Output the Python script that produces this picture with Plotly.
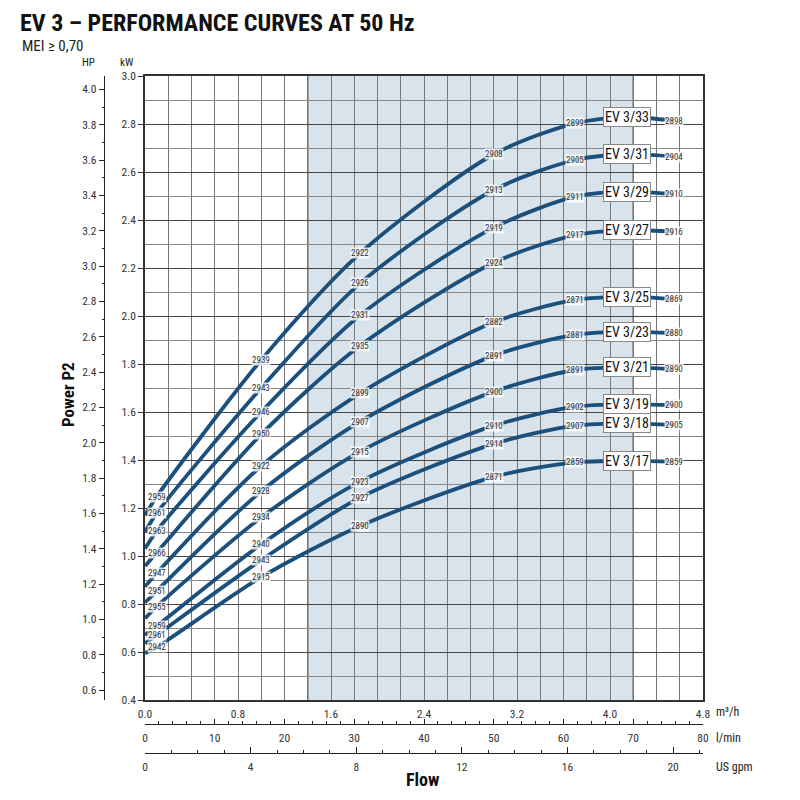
import plotly.graph_objects as go

# flow points (m3/h)
flow = [0.0, 0.1, 1.0, 1.85, 3.0, 3.7, 4.15, 4.55]

models = ["EV 3/33", "EV 3/31", "EV 3/29", "EV 3/27", "EV 3/25",
          "EV 3/23", "EV 3/21", "EV 3/19", "EV 3/18", "EV 3/17"]

# power P2 (kW) at the flow points
p_33 = [1.17, 1.247, 1.817, 2.261, 2.674, 2.803, 2.828, 2.814]
p_31 = [1.10, 1.178, 1.700, 2.136, 2.525, 2.650, 2.674, 2.664]
p_29 = [1.03, 1.104, 1.600, 2.003, 2.368, 2.497, 2.518, 2.507]
p_27 = [0.958, 1.014, 1.507, 1.876, 2.222, 2.337, 2.358, 2.351]
p_25 = [0.872, 0.928, 1.375, 1.678, 1.974, 2.067, 2.080, 2.071]
p_23 = [0.805, 0.854, 1.270, 1.560, 1.835, 1.921, 1.935, 1.928]
p_21 = [0.740, 0.789, 1.161, 1.435, 1.685, 1.775, 1.786, 1.778]
p_19 = [0.671, 0.708, 1.049, 1.310, 1.543, 1.622, 1.632, 1.629]
p_18 = [0.636, 0.670, 0.983, 1.243, 1.467, 1.543, 1.553, 1.546]
p_17 = [0.595, 0.620, 0.912, 1.125, 1.330, 1.390, 1.396, 1.393]
power = [p_33, p_31, p_29, p_27, p_25, p_23, p_21, p_19, p_18, p_17]

# speed (rpm) printed at flow points 0.1, 1.0, 1.85, 3.0, 3.7, 4.55
rpm_idx = [1, 2, 3, 4, 5, 7]
rpm_33 = [2959, 2939, 2922, 2908, 2899, 2898]
rpm_31 = [2961, 2943, 2926, 2913, 2905, 2904]
rpm_29 = [2963, 2946, 2931, 2919, 2911, 2910]
rpm_27 = [2966, 2950, 2935, 2924, 2917, 2916]
rpm_25 = [2947, 2922, 2899, 2882, 2871, 2869]
rpm_23 = [2951, 2928, 2907, 2891, 2881, 2880]
rpm_21 = [2955, 2934, 2915, 2900, 2891, 2890]
rpm_19 = [2959, 2940, 2923, 2910, 2902, 2900]
rpm_18 = [2961, 2943, 2927, 2914, 2907, 2905]
rpm_17 = [2942, 2915, 2890, 2871, 2859, 2859]
rpms = [rpm_33, rpm_31, rpm_29, rpm_27, rpm_25, rpm_23, rpm_21, rpm_19, rpm_18, rpm_17]
label_idx = 6  # where the model name box sits

# shaded working range (m3/h)
range_lo, range_hi = 1.4, 4.2

KW_PER_HP = 0.736
LMIN_PER_M3H = 1000 / 60
GPM_PER_M3H = 1 / 0.2271247

FONT = "Liberation Sans Narrow, Roboto Condensed, DejaVu Sans Condensed, Arial Narrow, Liberation Sans, sans-serif"
BLUE = "#1b4f7c"
W, H = 800, 800
OFF = 8  # page body margin


def px_x(p):
    return (p - OFF) / W


def px_y(p):
    return 1 - (p - OFF) / H


fig = go.Figure()

annotations = []
for name, pw, rp in zip(models, power, rpms):
    fig.add_trace(go.Scatter(x=flow, y=pw, mode="lines", line=dict(color=BLUE, width=3.8, shape="spline", smoothing=0.8),
                             name=name, showlegend=False, hoverinfo="skip"))
    for i, r in zip(rpm_idx, rp):
        annotations.append(dict(x=flow[i], y=pw[i], xref="x", yref="y", text=str(r), showarrow=False,
                                font=dict(family=FONT, size=9, color="#333"),
                                bgcolor="rgba(255,255,255,0.8)", borderpad=0))
    annotations.append(dict(x=flow[label_idx], y=pw[label_idx], xref="x", yref="y", text=name, showarrow=False,
                            font=dict(family=FONT, size=14, color="#111"),
                            bgcolor="white", bordercolor="#888", borderwidth=1, borderpad=1))

# invisible copies so the secondary scales get drawn
ghost = dict(mode="lines", line=dict(width=0), opacity=0, showlegend=False, hoverinfo="skip")
fig.add_trace(go.Scatter(x=flow, y=[p / KW_PER_HP for p in p_33], xaxis="x", yaxis="y2", **ghost))
fig.add_trace(go.Scatter(x=[f * LMIN_PER_M3H for f in flow], y=p_33, xaxis="x2", yaxis="y", **ghost))
fig.add_trace(go.Scatter(x=[f * GPM_PER_M3H for f in flow], y=p_33, xaxis="x3", yaxis="y", **ghost))


def note(x, y, text, size, xanchor="center", angle=0, color="#222", pad=1):
    return dict(x=px_x(x), y=px_y(y), xref="paper", yref="paper", xanchor=xanchor, yanchor="middle",
                text=text, showarrow=False, textangle=angle, borderpad=pad,
                font=dict(family=FONT, size=size, color=color))


# texts around the chart
annotations += [
    note(19, 23, "<b>EV 3 – PERFORMANCE CURVES AT 50 Hz</b>", 24, "left", color="#111", pad=0),
    note(20, 46, "MEI ≥ 0,70", 15, "left"),
    note(88, 62, "HP", 11),
    note(127, 62, "kW", 11),
    note(68, 395, "<b>Power P2</b>", 17, angle=-90, color="#111"),
    note(423, 779, "<b>Flow</b>", 18, color="#111"),
    note(714, 712, "m³/h", 12, "left"),
    note(714, 738, "l/min", 12, "left"),
    note(714, 767, "US gpm", 12, "left"),
]

shapes = [
    dict(type="rect", xref="x", yref="y", x0=range_lo, x1=range_hi, y0=0.4, y1=3.0,
         fillcolor="#d9e3eb", line=dict(width=0), layer="below"),
    dict(type="line", xref="x", yref="y", x0=range_lo, x1=range_lo, y0=0.4, y1=3.0,
         line=dict(color="#444", width=1.3), layer="below"),
    dict(type="line", xref="x", yref="y", x0=range_hi, x1=range_hi, y0=0.4, y1=3.0,
         line=dict(color="#444", width=1.3), layer="below"),
]

xdom = [px_x(145), px_x(703)]
tickfont = dict(family=FONT, size=11.5, color="#333")

fig.update_layout(
    width=W, height=H,
    margin=dict(l=0, r=0, t=0, b=0, autoexpand=False),
    paper_bgcolor="white", plot_bgcolor="white",
    annotations=annotations, shapes=shapes,
    xaxis=dict(domain=xdom, range=[0, 4.8], dtick=0.8, tick0=0, tickformat=".1f", automargin=False,
               showline=True, mirror=True, linecolor="#333", linewidth=1.5,
               showgrid=True, gridcolor="#777", gridwidth=1, ticks="", zeroline=False,
               minor=dict(dtick=0.2, showgrid=True, gridcolor="#777", gridwidth=1),
               tickfont=tickfont, ticklabelstandoff=2),
    yaxis=dict(domain=[px_y(700), px_y(76)], range=[0.4, 3.0], dtick=0.2, tick0=0, tickformat=".1f",
               automargin=False,
               showline=True, mirror=True, linecolor="#333", linewidth=1.5,
               showgrid=True, gridcolor="#444", gridwidth=1, ticks="outside", ticklen=5, tickcolor="#333",
               zeroline=False,
               minor=dict(dtick=0.1, showgrid=True, gridcolor="#888", gridwidth=1),
               tickfont=tickfont, ticklabelstandoff=0),
    yaxis2=dict(overlaying="y", anchor="free", position=px_x(104), side="left", automargin=False,
                range=[0.4 / KW_PER_HP, 3.0 / KW_PER_HP], dtick=0.2, tick0=0, tickformat=".1f",
                showline=True, linecolor="#222", linewidth=1.3, showgrid=False, zeroline=False,
                ticks="outside", ticklen=5, tickcolor="#222",
                minor=dict(dtick=0.1, ticks="outside", ticklen=2, tickcolor="#222"),
                tickfont=tickfont),
    xaxis2=dict(overlaying="x", anchor="free", position=px_y(724), side="bottom", automargin=False,
                range=[0, 4.8 * LMIN_PER_M3H], dtick=10, tick0=0,
                showline=True, linecolor="#222", linewidth=1.3, showgrid=False, zeroline=False,
                ticks="inside", ticklen=5, tickcolor="#222",
                minor=dict(dtick=2, ticks="inside", ticklen=3, tickcolor="#222"),
                tickfont=tickfont, ticklabelstandoff=3),
    xaxis3=dict(overlaying="x", anchor="free", position=px_y(753), side="bottom", automargin=False,
                range=[0, 4.8 * GPM_PER_M3H], dtick=4, tick0=0,
                showline=True, linecolor="#222", linewidth=1.3, showgrid=False, zeroline=False,
                ticks="inside", ticklen=6, tickcolor="#222",
                minor=dict(dtick=1, ticks="inside", ticklen=3, tickcolor="#222"),
                tickfont=tickfont, ticklabelstandoff=3),
)

fig.write_html("out.html")
